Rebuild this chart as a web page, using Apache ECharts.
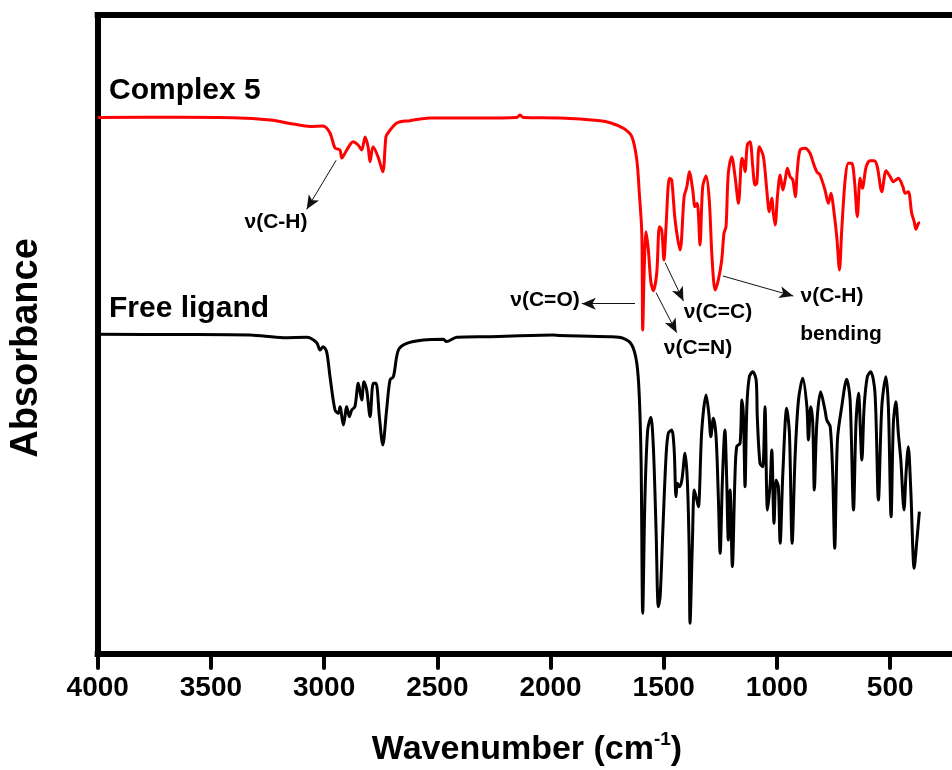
<!DOCTYPE html>
<html>
<head>
<meta charset="utf-8">
<script src="https://cdn.jsdelivr.net/npm/echarts@6/dist/echarts.min.js"></script>
<style>
html,body{margin:0;padding:0;background:#fff;}
#chart{width:952px;height:770px;}
</style>
</head>
<body>
<div id="chart"></div>
<script>
// Wavenumber axis ticks (cm-1)
const xTicks = [4000, 3500, 3000, 2500, 2000, 1500, 1000, 500];

// Complex 5 (red) – wavenumber (cm-1) and absorbance (a.u., offset trace)
const complexWn = [4000,3636,3402,3239,3137,3062,3005,2974,2952,2930,2922,2900,2872,2850,2834,2819,2806,2797,2784,2762,2741,2727,2718,2679,2621,2532,2311,2150,2135,2120,1958,1781,1737,1678,1641,1619,1608,1597,1593,1586,1578,1568,1557,1546,1531,1519,1509,1499,1490,1475,1465,1450,1428,1410,1398,1387,1372,1362,1352,1340,1328,1313,1299,1287,1273,1259,1244,1234,1225,1215,1200,1185,1170,1155,1148,1141,1131,1119,1107,1097,1089,1078,1060,1045,1034,1023,1016,1008,998,986,974,964,954,942,930,919,910,898,876,854,839,824,810,788,773,761,751,736,724,714,699,685,670,658,645,633,623,606,589,571,557,537,518,500,486,464,444,434,420,405,394,386,375,368];
const complexAbs = [536.5,536.7,536.3,534,530,527.5,528,521,506,504,496,504,512.3,509,504,517,507.3,492.3,507.3,497.3,482.3,517.3,521,531,533.3,536,536,536.5,539,536.5,536,533.3,531.3,525.7,517.3,494,461,421,324,387.3,422.3,404,372.3,363.3,381,427.3,424,394,427.3,475.7,474,434,404,457.3,467.3,482.3,464,447.3,450.7,409,467.3,478,454,397.3,364,374,394,420.7,427.3,480.7,497.3,477.3,450.7,495.7,492.3,482.3,509,512.3,487.3,469,470.7,507.3,497.3,464,442.3,455.7,440.7,429,457.3,479,464,474,485.7,477.3,474,457.3,484,504,505.7,500.7,490.7,482.3,479,464,450.7,460.7,447.3,417.3,384,424,474,490.7,490.7,474,437.3,475.7,465.7,487.3,493.3,493.3,487.3,462.3,483.3,477.3,472.3,475.7,467.3,460.7,462.3,440.7,432.3,424.7,430.7,431.3];

// Free ligand (black)
const ligandWn = [4000,3636,3327,3180,3077,3033,3018,3004,2989,2974,2952,2937,2930,2915,2900,2889,2878,2864,2849,2834,2824,2812,2797,2783,2771,2756,2741,2724,2709,2694,2672,2635,2562,2473,2460,2414,2267,1990,1958,1737,1678,1641,1619,1608,1600,1593,1583,1571,1557,1546,1534,1524,1516,1504,1490,1480,1465,1454,1446,1440,1431,1420,1406,1396,1388,1384,1374,1365,1354,1347,1332,1313,1301,1292,1281,1269,1259,1251,1241,1230,1222,1215,1207,1197,1186,1178,1163,1155,1148,1141,1133,1122,1107,1092,1087,1075,1063,1053,1042,1030,1023,1013,1004,994,986,974,957,945,933,920,905,886,868,861,851,842,835,824,807,788,780,765,754,745,733,714,692,677,662,651,640,625,615,601,586,567,552,537,519,508,496,486,475,464,453,439,430,420,409,394,382,371];
const ligandAbs = [319.7,319.5,319,316.3,316.7,311.3,304,307.3,302.3,277.3,244,240.7,247.3,229,247.3,237.3,244,247.3,270.7,254,272.3,264,237.3,270.7,270.7,237.3,209,244,274,277.3,304,310.7,314,314.7,312.5,316.7,317.3,319,318.5,317.3,315.7,309,290.7,257.3,191,40.7,157.3,224,236.7,207.3,124,47.3,57.3,124,197.3,220.7,224,204,157.3,170.7,167.3,174,200.7,174,107.3,30.7,107.3,164,154,147.3,224,259,240.7,217.3,235.7,217.3,157.3,100.7,174,224,174,114,164,87.3,174,207.3,210.7,254,237.3,167.3,247.3,277.3,282.3,274,237.3,190.7,187.3,247.3,144,170.7,204,130.7,174,167.3,110.7,180.7,245.7,220.7,110.7,197.3,254,275.7,247.3,214,247.3,230.7,164,230.7,262.3,244,234,227.3,180.7,105.7,214,247.3,274.7,254,144,230.7,260.7,194,247.3,277.3,282.3,260.7,154,247.3,277.3,247.3,137.3,230.7,252.3,220.7,194,144,180.7,207.3,164,85.7,114,142.3];

// Band assignment arrows: [wavenumber, value] at tail and head
const arrowNames = ['ν(C-H)', 'ν(C=O)', 'ν(C=N)', 'ν(C=C)', 'ν(C-H) bending'];
const arrowFrom = [[2947, 493.7], [1627, 350.3], [1534, 361.3], [1494, 391.3], [1239, 378]];
const arrowTo   = [[3077, 444.7], [1862, 350.3], [1443, 321.3], [1413, 353], [928, 358]];

const FONT = '"Liberation Sans", Arial, Helvetica, sans-serif';

function pairs(xs, ys) { return xs.map((x, i) => [x, ys[i]]); }

const chart = echarts.init(document.getElementById('chart'), null, {renderer: 'canvas'});

const arrowData = arrowFrom.map((f, i) => [
  {coord: f, name: arrowNames[i]},
  {coord: arrowTo[i]}
]);

const txt = (x, y, text, size, align, extra) => Object.assign({
  type: 'text', x: x, y: y, silent: true,
  style: {text: text, fontFamily: FONT, fontWeight: 'bold', fontSize: size,
          fill: '#000', align: align || 'center', verticalAlign: 'middle'}
}, extra || {});

const X_MIN = 227, X_MAX = 4000;
const axisLineStyle = {color: '#000', width: 6, cap: 'square'};

chart.setOption({
  animation: false,
  backgroundColor: '#fff',
  grid: {left: 97.7, right: 0, top: 15, height: 639, show: false},
  xAxis: [
    {
      type: 'value', position: 'bottom', inverse: true, min: X_MIN, max: X_MAX,
      axisLine: {show: true, onZero: false, lineStyle: axisLineStyle},
      axisTick: {show: true, inside: false, length: 14, customValues: xTicks,
                 lineStyle: {color: '#000', width: 4, cap: 'round'}},
      axisLabel: {show: true, margin: 20, customValues: xTicks, color: '#000',
                  fontFamily: FONT, fontWeight: 'bold', fontSize: 28,
                  formatter: v => String(Math.round(v))},
      splitLine: {show: false}
    },
    {
      type: 'value', position: 'top', inverse: true, min: X_MIN, max: X_MAX,
      axisLine: {show: true, onZero: false, lineStyle: axisLineStyle},
      axisTick: {show: false}, axisLabel: {show: false}, splitLine: {show: false}
    }
  ],
  yAxis: {
    type: 'value', min: 0, max: 639,
    axisLine: {show: true, onZero: false, lineStyle: axisLineStyle},
    axisTick: {show: false}, axisLabel: {show: false}, splitLine: {show: false}
  },
  series: [
    {
      name: 'Complex 5', type: 'line', data: pairs(complexWn, complexAbs),
      showSymbol: false, symbol: 'none', smooth: 0.3,
      lineStyle: {color: '#ff0000', width: 3}, z: 3
    },
    {
      name: 'Free ligand', type: 'line', data: pairs(ligandWn, ligandAbs),
      showSymbol: false, symbol: 'none', smooth: 0.3,
      lineStyle: {color: '#000', width: 3}, z: 2,
      markLine: {
        silent: true, symbol: ['none', 'arrow'], symbolSize: [9, 14],
        label: {show: false},
        lineStyle: {color: '#111', width: 1, type: 'solid'},
        itemStyle: {color: '#111'},
        emphasis: {disabled: true},
        data: arrowData
      }
    }
  ],
  graphic: [
    txt(109, 91, 'Complex 5', 30, 'left'),
    txt(109, 309, 'Free ligand', 30, 'left'),
    txt(276, 222, 'ν(C-H)', 21),
    txt(545, 300, 'ν(C=O)', 21),
    txt(698, 348, 'ν(C=N)', 21),
    txt(718, 312, 'ν(C=C)', 21),
    txt(832, 296, 'ν(C-H)', 21),
    txt(841, 334, 'bending', 21),
    txt(27, 348, 'Absorbance', 38, 'center', {rotation: Math.PI / 2}),
    {
      type: 'text', x: 527, y: 750, silent: true,
      style: {
        text: '{a|Wavenumber (cm}{s|-1}{a|)}',
        align: 'center', verticalAlign: 'middle',
        fontFamily: FONT, fontWeight: 'bold', fill: '#000',
        rich: {
          a: {fontFamily: FONT, fontWeight: 'bold', fontSize: 34, lineHeight: 40, fill: '#000'},
          s: {fontFamily: FONT, fontWeight: 'bold', fontSize: 19, verticalAlign: 'top', lineHeight: 40, fill: '#000'}
        }
      }
    }
  ]
});
</script>
</body>
</html>
